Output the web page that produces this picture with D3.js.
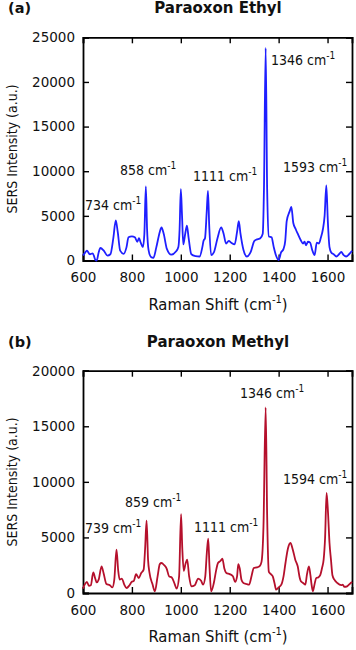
<!DOCTYPE html>
<html>
<head>
<meta charset="utf-8">
<script src="https://cdn.jsdelivr.net/npm/d3@7"></script>
<style>
  body { margin: 0; background: #fff; }
  svg { display: block; }
  text { font-family: "DejaVu Sans", Verdana, sans-serif; fill: #111; }
  .narrow { font-family: "DejaVu Sans Condensed", "DejaVu Sans", sans-serif; font-stretch: condensed; }
</style>
</head>
<body>
<svg id="chart" width="356" height="650"></svg>
<script>
// spectra (Raman shift in cm-1, intensity in a.u.)
const ethylShift = [600,608,616,628,640,650,656,664,671,685,700,712,724,734,742,752,766,778,786,800,812,822,829,836,845,851,857,862,868,878,888,900,914,921,930,943,961,980,990,995,1000,1005,1010,1018,1025,1032,1043,1060,1077,1088,1093,1099,1106,1111,1116,1124,1135,1150,1165,1175,1185,1196,1206,1220,1230,1237,1244,1256,1270,1285,1301,1315,1325,1335,1340,1347,1353,1360,1371,1380,1390,1400,1410,1420,1427,1433,1445,1452,1460,1470,1478,1490,1500,1506,1512,1520,1529,1537,1547,1556,1565,1572,1581,1588,1595,1601,1608,1615,1625,1636,1647,1656,1666,1676,1688,1700];
const ethylIntensity = [560,850,1100,700,800,100,0,900,1400,1100,550,700,2500,4500,3200,1100,750,1500,2600,2700,2600,2100,2500,2000,1500,3000,8300,3500,1200,400,300,1500,3200,3700,3000,1300,650,1000,1500,3500,8000,5000,1800,3000,3900,2500,700,500,450,1500,2200,2500,5500,7800,4000,600,900,2500,3700,3000,1900,2200,2000,1800,3200,4400,3000,1200,450,900,2200,2400,2500,3000,8000,23800,8000,2700,2600,1500,500,50,900,1300,2200,4400,5500,6000,4200,3500,3000,2300,1900,2100,1700,2100,2000,1200,600,2000,1900,2500,3500,5000,8400,4500,1500,900,700,450,700,950,600,450,700,1100];

const methylShift = [600,608,616,624,632,642,650,656,664,676,684,696,710,720,728,737,744,750,759,768,778,790,799,808,817,828,838,848,854,860,866,872,884,894,905,914,921,932,942,952,963,975,983,993,1001,1006,1012,1019,1026,1034,1043,1057,1071,1083,1091,1100,1106,1112,1117,1124,1135,1145,1152,1163,1170,1178,1186,1200,1213,1222,1230,1235,1241,1248,1256,1270,1279,1290,1298,1310,1322,1330,1338,1347,1353,1360,1368,1376,1383,1390,1400,1411,1420,1428,1438,1448,1458,1468,1478,1486,1491,1500,1509,1516,1524,1530,1535,1540,1547,1554,1562,1570,1578,1584,1590,1596,1602,1608,1614,1620,1628,1640,1656,1662,1669,1680,1690,1700];
const methylIntensity = [400,800,1000,650,700,1850,1300,950,1200,2400,1800,800,700,500,1200,3900,2000,1200,1300,800,450,700,1000,1100,1700,1350,1800,2100,4000,6500,3000,1800,800,150,1500,2600,2700,2500,2200,1500,1400,800,400,1500,7100,4000,2000,2600,3000,1500,600,700,1300,1100,750,1500,3500,4900,2500,150,900,2100,2700,2900,3100,2200,1800,1700,1500,1000,1500,2600,2200,1200,900,800,750,1600,2250,2300,2400,2800,6000,16700,7000,1900,1700,1500,900,300,500,750,1500,2700,4000,4500,3900,3000,2400,1400,1050,900,750,1700,2400,1600,700,150,800,1350,1400,1600,2300,3000,5000,9000,7200,4500,3000,1600,1200,900,700,750,550,600,800,1000];

const xTicks = [600, 800, 1000, 1200, 1400, 1600];
const ethylYTicks = [0, 5000, 10000, 15000, 20000, 25000];
const methylYTicks = [0, 5000, 10000, 15000, 20000];

// peak labels: [shift text, label x (cm-1), label baseline (a.u.)]
const ethylPeaks = [["734", 608, 5650], ["858", 751, 9550], ["1111", 1050, 8900], ["1346", 1369, 21900], ["1593", 1418, 9900]];
const methylPeaks = [["739", 608, 5400], ["859", 772, 7700], ["1111", 1054, 5450], ["1346", 1242, 17550], ["1594", 1418, 9850]];

const svg = d3.select('#chart');
const left = 83, right = 352;

function panel(opt) {
    const { tag, title, top, bottom, yMax, yTicks, xs, ys, color, peaks } = opt;
    const g = svg.append('g');

    const x = d3.scaleLinear().domain([600, 1700]).range([left, right]);
    const y = d3.scaleLinear().domain([0, yMax]).range([bottom, top]);

    // panel letter + title
    g.append('text').attr('x', 8).attr('y', top - 24)
        .style('font-weight', 'bold').style('font-size', '14.5px').text(tag);
    g.append('text').attr('x', 218).attr('y', top - 24).attr('text-anchor', 'middle')
        .style('font-weight', 'bold').style('font-size', '15px').text(title);

    // axes, ticks pointing in, mirrored on top/right
    const tickLen = 6;
    g.append('g').attr('transform', `translate(0,${bottom})`)
        .call(d3.axisBottom(x).tickValues(xTicks).tickSize(-tickLen).tickPadding(12).tickFormat(d3.format('d')));
    g.append('g').attr('transform', `translate(0,${top})`)
        .call(d3.axisTop(x).tickValues(xTicks).tickSize(-tickLen).tickFormat(''));
    g.append('g').attr('transform', `translate(${left},0)`)
        .call(d3.axisLeft(y).tickValues(yTicks).tickSize(-tickLen).tickPadding(8).tickFormat(d3.format('d')));
    g.append('g').attr('transform', `translate(${right},0)`)
        .call(d3.axisRight(y).tickValues(yTicks).tickSize(-tickLen).tickFormat(''));

    g.selectAll('.domain').attr('stroke', '#000').attr('stroke-width', 1.8);
    g.selectAll('.tick line').attr('stroke', '#000').attr('stroke-width', 1.4);
    g.selectAll('.tick text').style('font-family', '"DejaVu Sans", Verdana, sans-serif')
        .style('font-size', '13.5px').attr('fill', '#111');

    // spectrum
    const pts = xs.map((s, i) => [s, ys[i]]);
    g.append('path').datum(pts)
        .attr('fill', 'none').attr('stroke', color).attr('stroke-width', 1.8)
        .attr('stroke-linejoin', 'round')
        .attr('d', d3.line().x(d => x(d[0])).y(d => y(d[1])).curve(d3.curveMonotoneX));

    // peak annotations
    peaks.forEach(p => {
        const t = g.append('text').attr('class', 'narrow')
            .attr('x', x(p[1])).attr('y', y(p[2])).style('font-size', '14px');
        t.append('tspan').text(p[0] + ' cm');
        t.append('tspan').attr('dy', -6).style('font-size', '10px').text('-1');
    });

    // axis titles
    const xl = g.append('text').attr('class', 'narrow')
        .attr('x', 218).attr('y', bottom + 49).attr('text-anchor', 'middle').style('font-size', '16.5px');
    xl.append('tspan').text('Raman Shift (cm');
    xl.append('tspan').attr('dy', -7).style('font-size', '11px').text('-1');
    xl.append('tspan').attr('dy', 7).text(')');

    g.append('text').attr('class', 'narrow')
        .attr('transform', `translate(17,${(top + bottom) / 2}) rotate(-90)`)
        .attr('text-anchor', 'middle').style('font-size', '14px')
        .text('SERS Intensity (a.u.)');
}

panel({ tag: '(a)', title: 'Paraoxon Ethyl', top: 37.3, bottom: 260.5, yMax: 25000,
        yTicks: ethylYTicks, xs: ethylShift, ys: ethylIntensity, color: '#1f1fff', peaks: ethylPeaks });
panel({ tag: '(b)', title: 'Paraoxon Methyl', top: 370.7, bottom: 593, yMax: 20000,
        yTicks: methylYTicks, xs: methylShift, ys: methylIntensity, color: '#b5102c', peaks: methylPeaks });
</script>
</body>
</html>
